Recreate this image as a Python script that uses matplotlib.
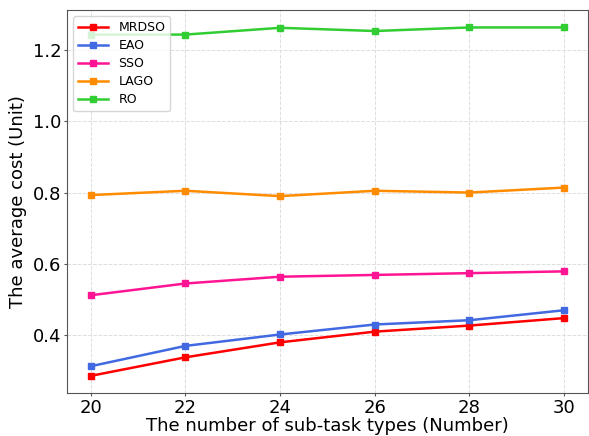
import matplotlib
matplotlib.use("Agg")
import matplotlib.pyplot as plt

x = [20, 22, 24, 26, 28, 30]
mrdso = [0.286, 0.338, 0.380, 0.410, 0.427, 0.448]
eao = [0.313, 0.370, 0.402, 0.430, 0.442, 0.470]
sso = [0.512, 0.545, 0.564, 0.569, 0.574, 0.579]
lago = [0.793, 0.805, 0.790, 0.805, 0.800, 0.814]
ro = [1.243, 1.243, 1.262, 1.253, 1.263, 1.263]

series = [("MRDSO", mrdso, "#ff0000"), ("EAO", eao, "#4169e1"),
          ("SSO", sso, "#ff1493"), ("LAGO", lago, "#ff8c00"), ("RO", ro, "#32cd32")]

fig, ax = plt.subplots(figsize=(5.89, 4.36), dpi=100)
for name, vals, c in series:
    ax.plot(x, vals, marker="s", markersize=4, linewidth=1.8, color=c, label=name)

ax.set_xlabel("The number of sub-task types (Number)", fontsize=13, labelpad=0)
ax.set_ylabel("The average cost (Unit)", fontsize=13, labelpad=4)
ax.set_xticks([20, 22, 24, 26, 28, 30])
ax.set_yticks([0.4, 0.6, 0.8, 1.0, 1.2])
ax.tick_params(labelsize=13, length=2.5, pad=1.5, color="#555555")
ax.grid(True, linestyle="--", color="#dddddd", linewidth=0.7)
for s in ax.spines.values():
    s.set_color("#555555")
ax.legend(loc="upper left", fontsize=9, handlelength=2.4, labelspacing=0.4)
fig.subplots_adjust(left=0.114, right=0.998, top=0.977, bottom=0.098)
fig.savefig("out.png", dpi=100)
